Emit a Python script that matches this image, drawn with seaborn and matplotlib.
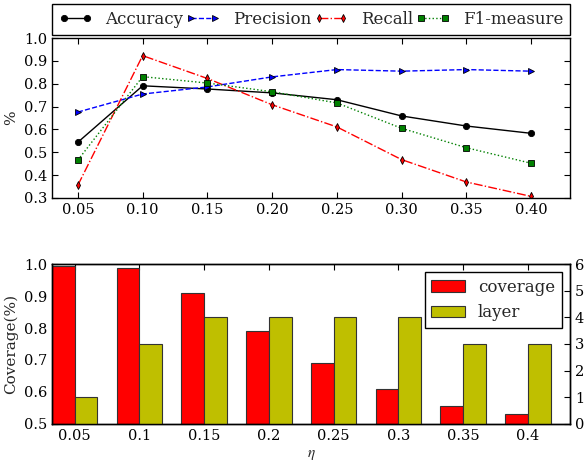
import numpy as np
import pandas as pd
import matplotlib
matplotlib.use("Agg")
import matplotlib.pyplot as plt
import seaborn as sns

# ---- data ----
eta = [0.05, 0.10, 0.15, 0.20, 0.25, 0.30, 0.35, 0.40]
accuracy = [0.544, 0.791, 0.777, 0.760, 0.730, 0.659, 0.615, 0.583]
precision = [0.676, 0.755, 0.786, 0.830, 0.862, 0.855, 0.862, 0.855]
recall = [0.356, 0.923, 0.823, 0.708, 0.611, 0.468, 0.370, 0.307]
f1 = [0.466, 0.831, 0.803, 0.765, 0.716, 0.605, 0.520, 0.452]

eta_labels = ["0.05", "0.1", "0.15", "0.2", "0.25", "0.3", "0.35", "0.4"]
coverage = [0.995, 0.987, 0.910, 0.790, 0.690, 0.610, 0.557, 0.531]
layer = [1, 3, 4, 4, 4, 4, 3, 3]

sns.set_style("ticks")
plt.rcParams["font.family"] = ["DejaVu Serif"]
plt.rcParams["mathtext.fontset"] = "stix"
plt.rcParams["axes.edgecolor"] = "black"
plt.rcParams["axes.linewidth"] = 1.0
plt.rcParams["xtick.color"] = "black"
plt.rcParams["ytick.color"] = "black"

fig = plt.figure(figsize=(5.84, 4.61), dpi=100)
ax = fig.add_axes([0.089, 0.5705, 0.887, 0.347])

series = [
    ("Accuracy", accuracy, "k", "-", "o", 4.5),
    ("Precision", precision, "b", "--", ">", 4.5),
    ("Recall", recall, "r", "-.", "d", 4),
    ("F1-measure", f1, "g", ":", "s", 4),
]
for name, vals, col, ls, mk, ms in series:
    sns.lineplot(x=eta, y=vals, ax=ax, color=col, linestyle=ls, marker=mk,
                 markersize=ms, markeredgecolor="k", markeredgewidth=0.6,
                 linewidth=1.0, label=name)

ax.set_xlim(0.03, 0.43)
ax.set_ylim(0.3, 1.0)
ax.set_xticks(eta)
ax.set_xticklabels(["%.2f" % e for e in eta])
ax.set_yticks(np.arange(0.3, 1.01, 0.1))
ax.set_yticklabels(["%.1f" % v for v in np.arange(0.3, 1.01, 0.1)])
ax.set_ylabel("%", fontsize=11)
ax.tick_params(direction="in", top=True, right=True, length=4, labelsize=10.5, width=0.8)
leg = ax.legend(loc="lower left", bbox_to_anchor=(0.0, 1.02, 1.0, 0.2), ncol=4,
                mode="expand", borderaxespad=0.0, fontsize=12, frameon=True,
                fancybox=False, framealpha=1, handlelength=2.0, handletextpad=0.8,
                columnspacing=0.5, numpoints=2)
leg.get_frame().set_edgecolor("black")
leg.get_frame().set_linewidth(1.0)

# ---- bottom ----
ax2 = fig.add_axes([0.089, 0.0803, 0.887, 0.347])
ax3 = ax2.twinx()
w = 0.35
ind = np.arange(len(eta_labels))
sns.barplot(x=ind - w / 2, y=coverage, native_scale=True, width=w, color="#ff0000",
            saturation=1, edgecolor="#333333", linewidth=0.8, ax=ax2, label="coverage")
sns.barplot(x=ind + w / 2, y=layer, native_scale=True, width=w, color="#bfbf00",
            saturation=1, edgecolor="#333333", linewidth=0.8, ax=ax3, label="layer")
for a in (ax2, ax3):
    if a.get_legend() is not None:
        a.get_legend().remove()

ax2.set_xlim(-0.35, 7.65)
ax2.set_ylim(0.5, 1.0)
ax3.set_ylim(0, 6)
ax2.set_xticks(ind)
ax2.set_xticklabels(eta_labels)
ax2.set_yticks(np.arange(0.5, 1.01, 0.1))
ax2.set_yticklabels(["%.1f" % v for v in np.arange(0.5, 1.01, 0.1)])
ax3.set_yticks(range(0, 7))
ax2.set_ylabel("Coverage(%)", fontsize=11)
ax2.set_xlabel(r"$\eta$", fontsize=11)
ax3.set_ylabel("")
ax2.tick_params(direction="in", top=True, length=4, labelsize=10.5, width=0.8)
ax3.tick_params(direction="in", length=4, labelsize=10.5, width=0.8)

h1, l1 = ax2.get_legend_handles_labels()
h2, l2 = ax3.get_legend_handles_labels()
leg2 = ax3.legend(h1[:1] + h2[:1], ["coverage", "layer"], loc="upper right", fontsize=12,
                  frameon=True, fancybox=False, framealpha=1, borderaxespad=0.5)
leg2.get_frame().set_edgecolor("black")
leg2.get_frame().set_linewidth(1.0)

fig.savefig("out.png", dpi=100)
